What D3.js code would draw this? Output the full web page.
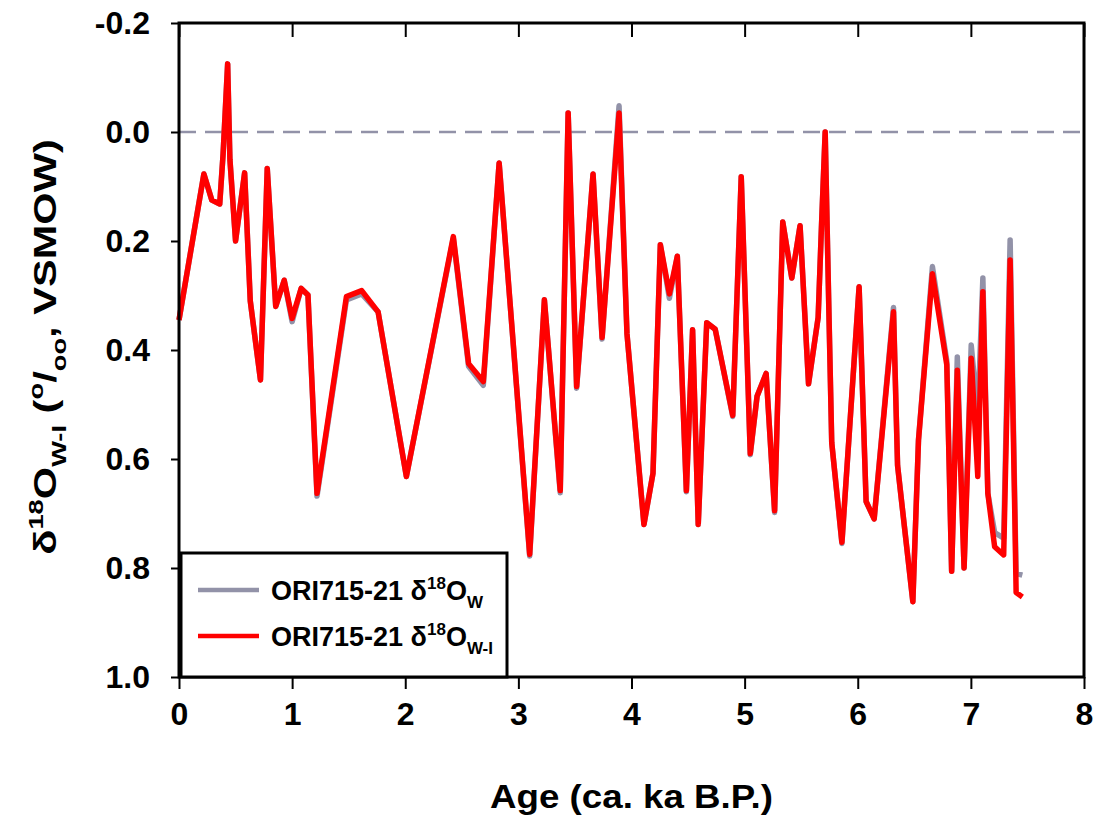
<!DOCTYPE html>
<html>
<head>
<meta charset="utf-8">
<script src="https://cdn.jsdelivr.net/npm/d3@7"></script>
<style>
  body { margin: 0; background: #fff; }
  text { font-family: "Liberation Sans", Arial, sans-serif; font-weight: bold; }
</style>
</head>
<body>
<svg id="chart" width="1097" height="818"></svg>
<script>
// age (ka B.P.)
const age = [0.00,0.22,0.29,0.36,0.39,0.43,0.45,0.50,0.58,0.63,0.72,0.78,0.855,0.93,1.00,1.08,1.14,1.22,1.48,1.615,
  1.76,2.01,2.425,2.56,2.69,2.83,3.10,3.23,3.37,3.44,3.515,3.66,3.74,3.89,3.96,4.11,4.19,4.255,4.335,4.405,
  4.485,4.54,4.59,4.665,4.74,4.895,4.97,5.05,5.11,5.19,5.265,5.337,5.417,5.49,5.565,5.65,5.68,5.712,5.745,5.77,
  5.86,6.012,6.074,6.145,6.316,6.352,6.487,6.537,6.66,6.787,6.83,6.88,6.94,7.003,7.061,7.106,7.15,7.21,7.29,7.347,
  7.39,7.40,7.455];

// d18O W-I (red)
const d18Owi = [0.345,0.077,0.125,0.132,0.04,-0.125,0.05,0.200,0.075,0.31,0.455,0.067,0.32,0.272,0.342,0.287,0.299,0.663,0.302,0.291,
  0.33,0.632,0.192,0.425,0.458,0.057,0.775,0.308,0.658,-0.035,0.467,0.077,0.377,-0.035,0.37,0.72,0.626,0.207,0.297,0.228,
  0.658,0.363,0.72,0.35,0.362,0.52,0.082,0.59,0.485,0.443,0.695,0.165,0.268,0.172,0.462,0.34,0.17,0.0,0.33,0.57,
  0.753,0.284,0.678,0.71,0.33,0.612,0.862,0.565,0.26,0.427,0.806,0.437,0.80,0.415,0.632,0.293,0.663,0.761,0.776,0.235,
  0.72,0.845,0.853];

// d18O W (grey)
const d18Ow = [0.345,0.077,0.125,0.132,0.04,-0.125,0.05,0.200,0.075,0.31,0.455,0.067,0.32,0.272,0.348,0.287,0.299,0.668,0.308,0.297,
  0.33,0.632,0.195,0.43,0.465,0.057,0.778,0.308,0.662,-0.035,0.47,0.077,0.38,-0.048,0.37,0.72,0.626,0.207,0.305,0.228,
  0.66,0.363,0.72,0.35,0.362,0.522,0.082,0.592,0.485,0.443,0.698,0.165,0.268,0.172,0.462,0.34,0.17,0.0,0.33,0.57,
  0.755,0.284,0.678,0.71,0.322,0.612,0.862,0.565,0.247,0.42,0.806,0.413,0.80,0.391,0.52,0.268,0.663,0.735,0.745,0.198,
  0.70,0.81,0.813];

const xTicks = [0,1,2,3,4,5,6,7,8];
const yTicks = [-0.2,0.0,0.2,0.4,0.6,0.8,1.0];
const seriesNames = ["ORI715-21 δ", "ORI715-21 δ"];
const seriesSubs = ["W", "W-I"];
const colors = ["#9292a8", "#ff0000"];

const svg = d3.select("#chart");
const m = {left:179, top:23, right:13, bottom:141};
const W = 1097 - m.left - m.right, H = 818 - m.top - m.bottom;

const x = d3.scaleLinear().domain([0,8]).range([0,W]);
const y = d3.scaleLinear().domain([-0.2,1.0]).range([0,H]);

const g = svg.append("g").attr("transform",`translate(${m.left},${m.top})`);

// zero reference line
g.append("line")
  .attr("x1",0).attr("x2",W)
  .attr("y1",y(0)).attr("y2",y(0))
  .attr("stroke","#9292a8").attr("stroke-width",2.5)
  .attr("stroke-dasharray","17,9");

// data lines
const line = d3.line().x((d,i) => x(age[i])).y(d => y(d));
[d18Ow, d18Owi].forEach((s,k) => {
  g.append("path")
    .datum(s)
    .attr("fill","none")
    .attr("stroke",colors[k])
    .attr("stroke-width",5.5)
    .attr("stroke-linejoin","round")
    .attr("d",line);
});

// minor ticks
const minor = d3.range(0,8.001,0.2).map(v => +v.toFixed(1));

// bottom axis
const bx = g.append("g").attr("transform",`translate(0,${H})`);
bx.call(d3.axisBottom(x).tickValues(minor).tickSize(8).tickFormat(""));
bx.call(d3.axisBottom(x).tickValues(xTicks).tickSize(12).tickPadding(13).tickFormat(d3.format("d")));
// top axis (ticks inward)
const tx = g.append("g");
tx.call(d3.axisBottom(x).tickValues(minor).tickSize(8).tickFormat(""));
tx.call(d3.axisBottom(x).tickValues(xTicks).tickSize(14).tickFormat(""));
// left axis
const ly = g.append("g");
ly.call(d3.axisLeft(y).tickValues(yTicks).tickSize(8).tickPadding(21).tickFormat(d => d.toFixed(1)));

g.selectAll(".domain").remove();
g.selectAll(".tick line").attr("stroke","#000").attr("stroke-width",2);
g.selectAll(".tick text").attr("fill","#000").style("font-size","32px");
bx.selectAll(".tick text").attr("dy","0.71em");

// frame
g.append("rect")
  .attr("width",W).attr("height",H)
  .attr("fill","none").attr("stroke","#000").attr("stroke-width",3);

// legend
const lgTop = y(0.8) - 15;
const lg = g.append("g").attr("transform",`translate(2,${lgTop})`);
lg.append("rect").attr("width",326).attr("height",H - lgTop)
  .attr("fill","#fff").attr("stroke","#000").attr("stroke-width",3);
seriesNames.forEach((nm,i) => {
  const yy = 37 + i*46;
  lg.append("line").attr("x1",17).attr("x2",78).attr("y1",yy).attr("y2",yy)
    .attr("stroke",colors[i]).attr("stroke-width",4.5);
  const t = lg.append("text").attr("x",90).attr("y",yy+10).style("font-size","27px").attr("fill","#000");
  t.append("tspan").text(nm);
  t.append("tspan").attr("dy",-11).style("font-size","17px").text("18");
  t.append("tspan").attr("dy",11).text("O");
  t.append("tspan").attr("dy",8).style("font-size","17px").text(seriesSubs[i]);
});

// x axis title
svg.append("text")
  .attr("transform",`translate(${m.left+W/2},808) scale(1.08,1)`)
  .attr("text-anchor","middle").style("font-size","34px")
  .text("Age (ca. ka B.P.)");

// y axis title
const yt = svg.append("text")
  .attr("transform",`translate(56,347) rotate(-90) scale(1.3,1)`)
  .attr("text-anchor","middle").style("font-size","32px");
yt.append("tspan").text("δ");
yt.append("tspan").attr("dy",-13).style("font-size","21px").text("18");
yt.append("tspan").attr("dy",13).text("O");
yt.append("tspan").attr("dy",10).style("font-size","21px").text("W-I");
yt.append("tspan").attr("dy",-10).text(" (");
yt.append("tspan").attr("dy",-13).style("font-size","21px").text("o");
yt.append("tspan").attr("dy",13).text("/");
yt.append("tspan").attr("dy",10).style("font-size","21px").text("oo");
yt.append("tspan").attr("dy",-10).text(", VSMOW)");
</script>
</body>
</html>
